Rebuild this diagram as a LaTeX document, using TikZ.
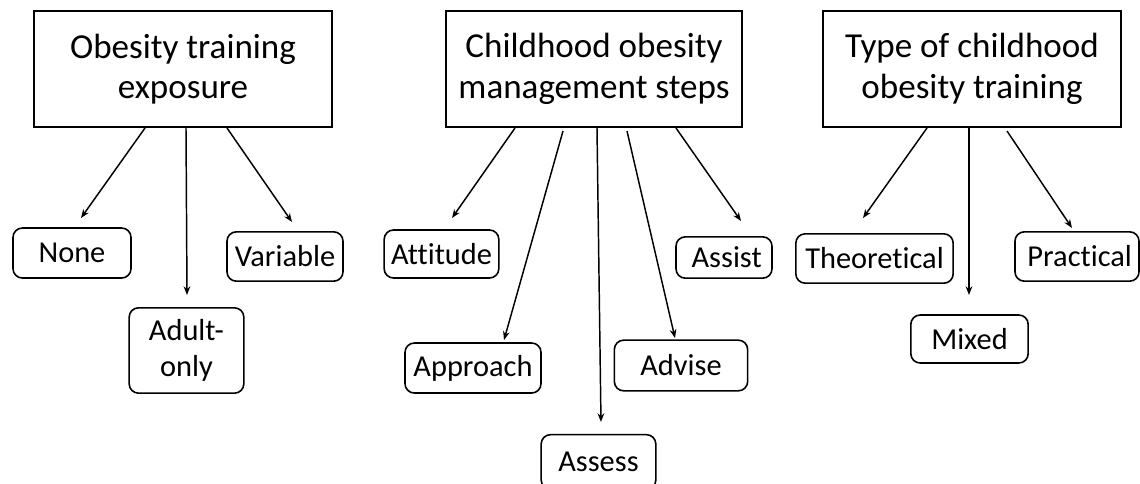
\documentclass[tikz,border=0pt]{standalone}
\usepackage{fontspec}
\setmainfont{Carlito}[Ligatures=NoCommon]
\usetikzlibrary{arrows.meta,calc}

\begin{document}
\begin{tikzpicture}[x=0.75pt,y=-0.75pt,
  head/.style={draw, line width=1.5pt, minimum width=223.5pt, minimum height=87pt, align=center, font=\fontsize{26.3}{30.5}\selectfont},
  leaf/.style={draw, rounded corners=7pt, line width=1.2pt, inner sep=0pt, align=center, font=\fontsize{22.8}{26.5}\selectfont},
  arr/.style={-{Stealth[length=6.5pt,width=5pt]}, line width=1.1pt}]
\useasboundingbox (0,0) rectangle (1140,483);
% top boxes
\node[head] (exposure) at (183,69) {Obesity training\\exposure};
\node[head, minimum width=222pt] (steps) at (594,69) {Childhood obesity\\management steps};
\node[head] (type) at (972,69) {Type of childhood\\obesity training};
% training exposure
\node[leaf, minimum width=88.5pt, minimum height=37.5pt] (none) at (72,253) {None};
\node[leaf, minimum width=86pt, minimum height=64pt] (adult) at (186.5,350.5) {Adult-\\only};
\node[leaf, minimum width=87pt, minimum height=37pt] (variable) at (285,256.5) {Variable};
% management steps
\node[leaf, minimum width=86pt, minimum height=36pt] (attitude) at (441.5,254) {Attitude};
\node[leaf, minimum width=102pt, minimum height=37.5pt] (approach) at (473,368) {Approach};
\node[leaf, minimum width=86pt, minimum height=41pt] (assess) at (598.5,462) {Assess};
\node[leaf, minimum width=100pt, minimum height=38pt] (advise) at (681,365.5) {Advise};
\node[leaf, minimum width=72pt, minimum height=31pt] (assist) at (724,257.5) {\hspace{4pt}Assist};
% training type
\node[leaf, minimum width=118pt, minimum height=37pt] (theoretical) at (874.5,258.5) {Theoretical};
\node[leaf, minimum width=88pt, minimum height=36pt] (mixed) at (969.5,339) {Mixed};
\node[leaf, minimum width=93pt, minimum height=37pt] (practical) at (1077,256.5) {\hspace{4pt}Practical};
% arrow tips (they stop short of the boxes)
\coordinate (tip-none) at (81,218);
\coordinate (tip-adult) at (187,295);
\coordinate (tip-variable) at (292,222);
\coordinate (tip-attitude) at (452,218);
\coordinate (tip-approach) at (504,340);
\coordinate (tip-assess) at (601,422);
\coordinate (tip-advise) at (675,338);
\coordinate (tip-assist) at (741,221);
\coordinate (tip-theoretical) at (863,218);
\coordinate (tip-mixed) at (969,295);
\coordinate (tip-practical) at (1072,228);
\foreach \dx/\dy/\leaf in {112/0/none, 153/0/adult, 194/0/variable}
  \draw[arr] ($(exposure.south west)+(\dx,\dy)$) -- (tip-\leaf);
\foreach \dx/\dy/\leaf in {70/0/attitude, 118/3/approach, 152/0/assess, 182/3/advise, 231/0/assist}
  \draw[arr] ($(steps.south west)+(\dx,\dy)$) -- (tip-\leaf);
\foreach \dx/\dy/\leaf in {105/0/theoretical, 147/0/mixed, 185/3/practical}
  \draw[arr] ($(type.south west)+(\dx,\dy)$) -- (tip-\leaf);
\end{tikzpicture}
\end{document}
